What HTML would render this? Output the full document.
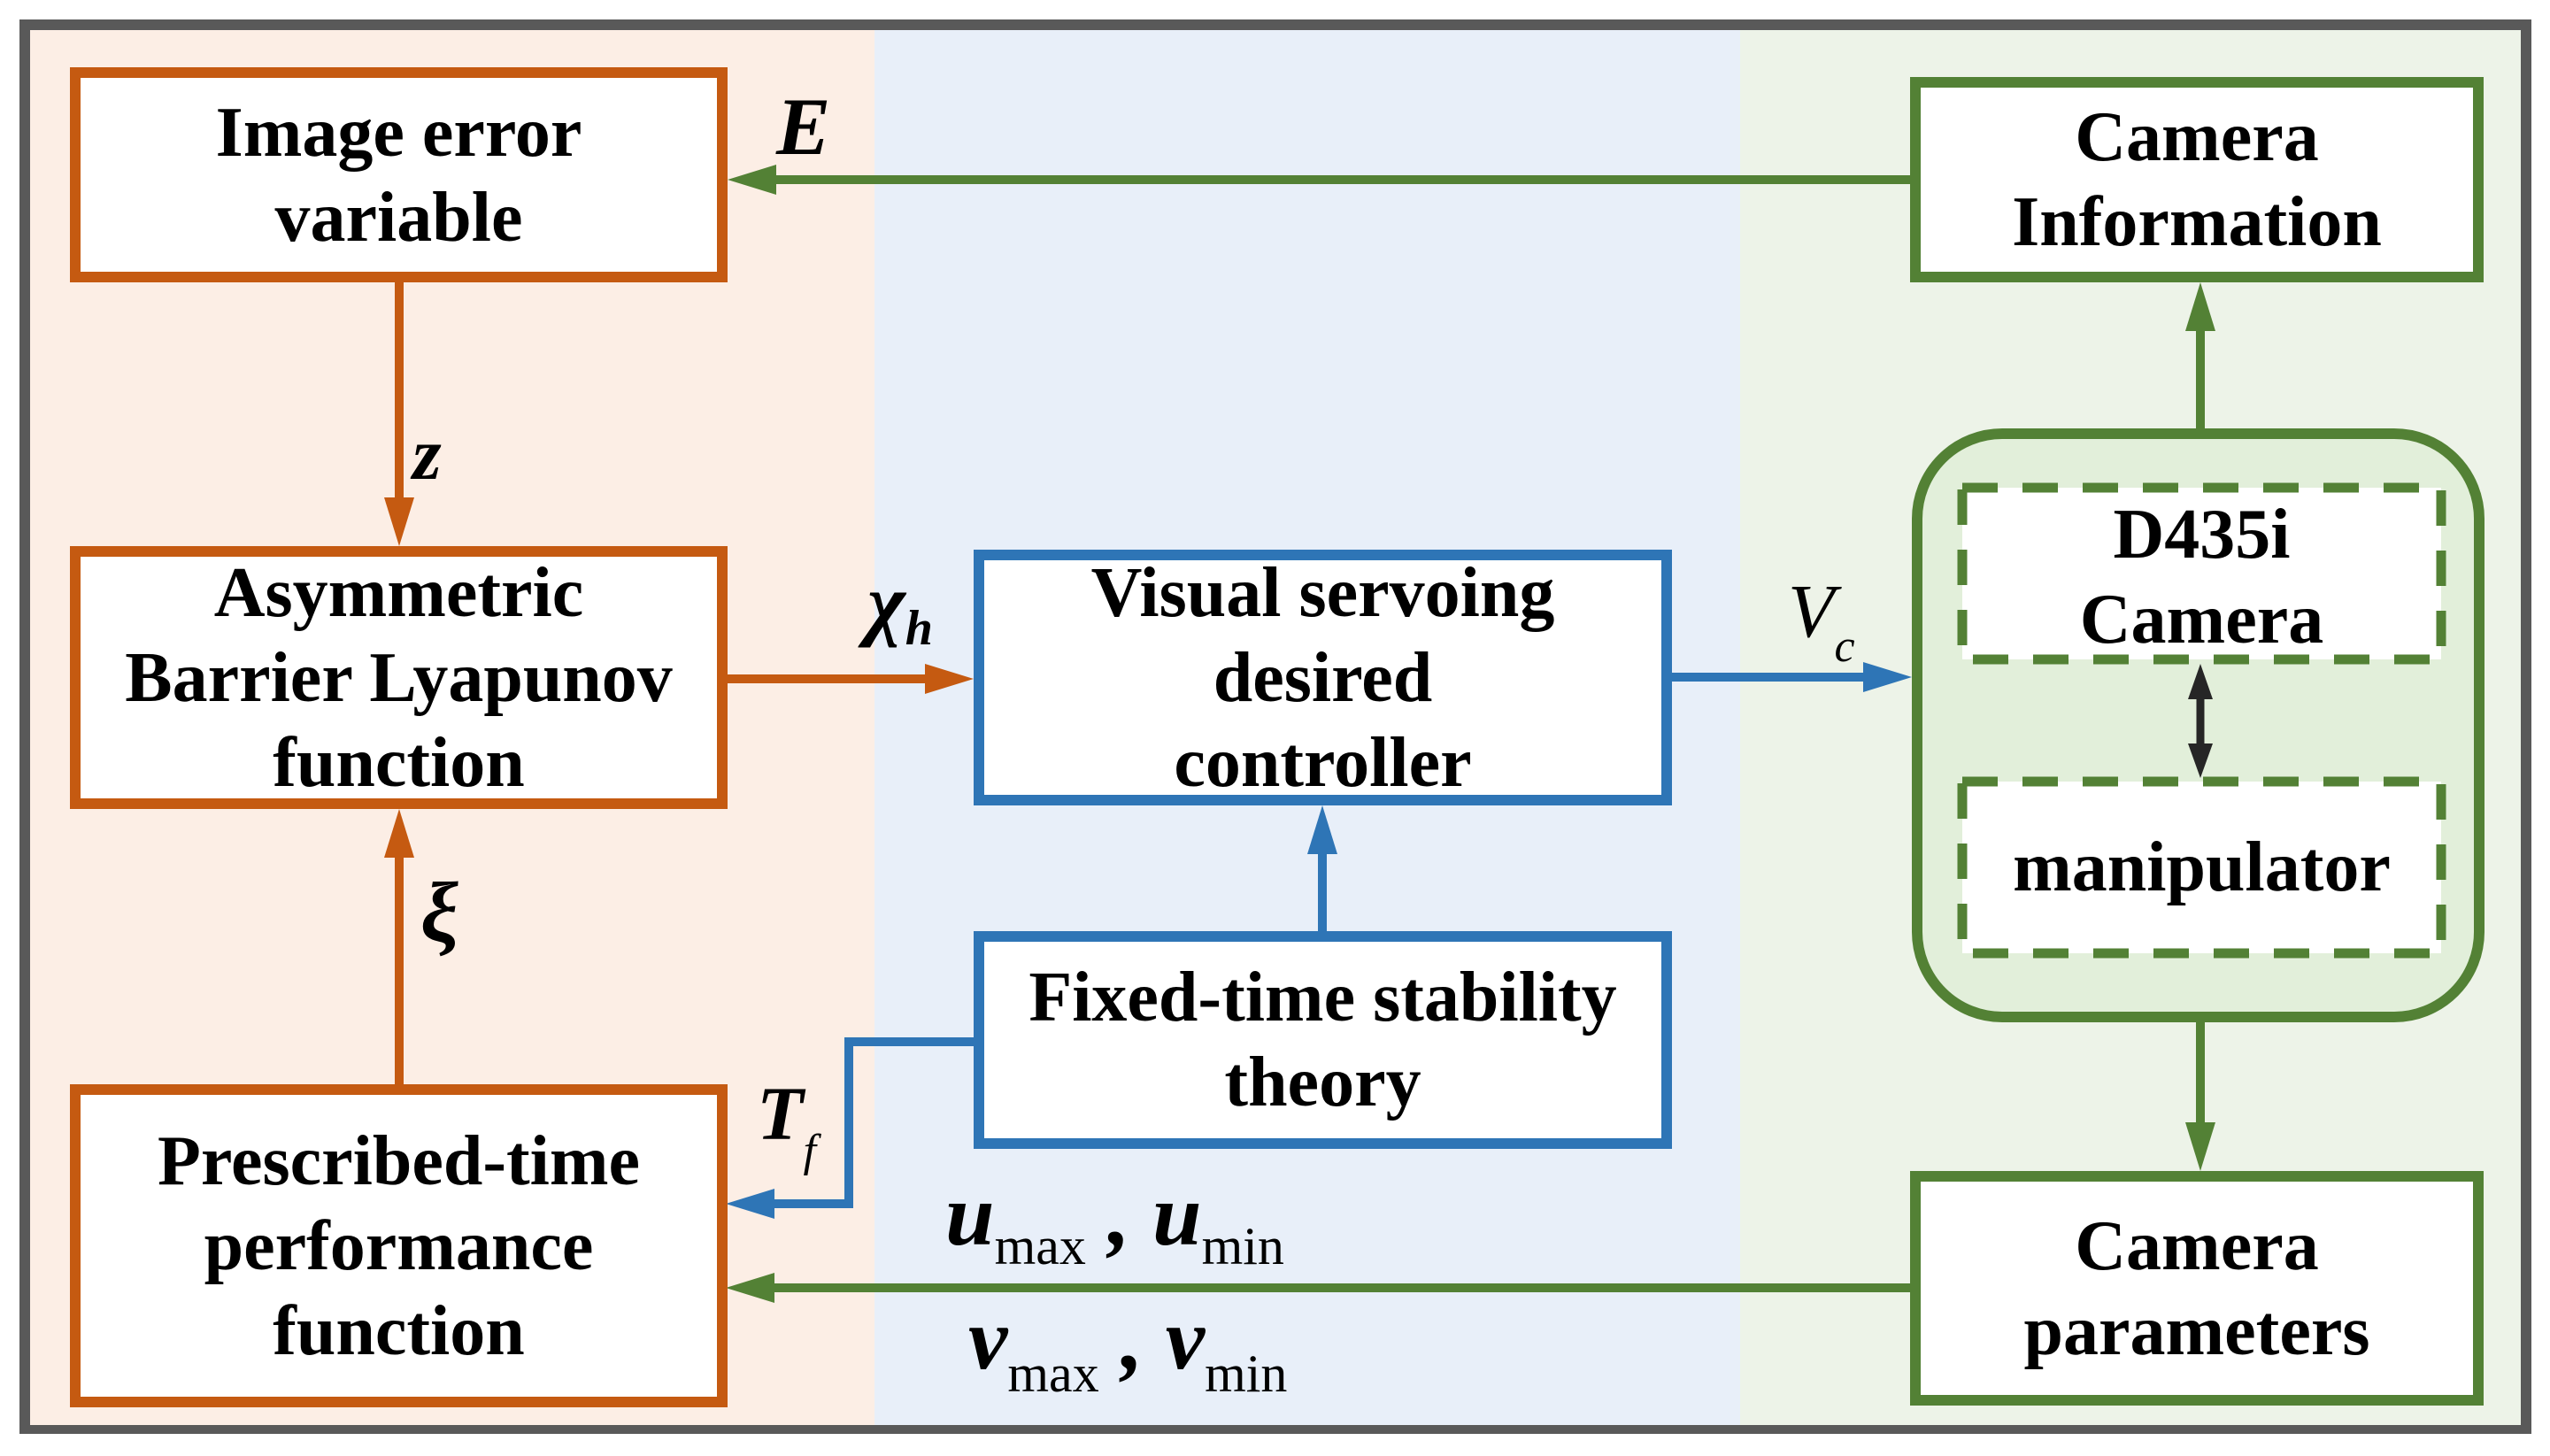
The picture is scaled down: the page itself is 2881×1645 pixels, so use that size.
<!DOCTYPE html>
<html><head><meta charset="utf-8"><style>
html,body{margin:0;padding:0;background:#fff}
#c{position:relative;width:2881px;height:1645px;overflow:hidden;background:#fff}
.b{position:absolute;box-sizing:border-box;border:12px solid;background:#fff;display:flex;align-items:center;justify-content:center;text-align:center;font-family:"Liberation Serif",serif;font-weight:bold;font-size:80px;line-height:96px;color:#000}
.o{border-color:#C55A11}.bl{border-color:#2E75B6}.g{border-color:#538135}
.t{position:absolute;font-family:"Liberation Serif",serif;font-weight:bold;font-style:italic;color:#000;white-space:nowrap}
.n{position:absolute;font-family:"Liberation Serif",serif;font-weight:bold;color:#000;white-space:nowrap;text-align:center;font-size:80px;line-height:96px}
</style></head><body><div id="c">
<svg width="2881" height="1645" style="position:absolute;left:0;top:0">
<rect x="22" y="22" width="2838" height="1598" fill="#595959"/>
<rect x="34" y="34" width="955" height="1576" fill="#FCEEE5"/>
<rect x="988" y="34" width="979" height="1576" fill="#E8EFF9"/>
<rect x="1966" y="34" width="882" height="1576" fill="#EDF3E8"/>
<g stroke-width="10" fill="none">
<line x1="2158" y1="203" x2="870" y2="203" stroke="#538135"/>
<line x1="451" y1="319" x2="451" y2="565" stroke="#C55A11"/>
<line x1="451" y1="1225" x2="451" y2="965" stroke="#C55A11"/>
<line x1="822" y1="767" x2="1050" y2="767" stroke="#C55A11"/>
<line x1="1889" y1="765" x2="2110" y2="765" stroke="#2E75B6"/>
<line x1="1494" y1="1052" x2="1494" y2="960" stroke="#2E75B6"/>
<polyline points="1100,1177 959,1177 959,1360 872,1360" stroke="#2E75B6"/>
<line x1="2158" y1="1455" x2="872" y2="1455" stroke="#538135"/>
<line x1="2486" y1="484" x2="2486" y2="370" stroke="#538135"/>
<line x1="2486" y1="1155" x2="2486" y2="1272" stroke="#538135"/>
</g>
<g>
<polygon points="822,203 877,186 877,220" fill="#538135"/>
<polygon points="451,617 434,562 468,562" fill="#C55A11"/>
<polygon points="451,914 434,969 468,969" fill="#C55A11"/>
<polygon points="1100,767 1045,750 1045,784" fill="#C55A11"/>
<polygon points="2160,765 2105,748 2105,782" fill="#2E75B6"/>
<polygon points="1494,910 1477,965 1511,965" fill="#2E75B6"/>
<polygon points="820,1360 875,1343 875,1377" fill="#2E75B6"/>
<polygon points="820,1455 875,1438 875,1472" fill="#538135"/>
<polygon points="2486,319 2469,374 2503,374" fill="#538135"/>
<polygon points="2486,1323 2469,1268 2503,1268" fill="#538135"/>
</g>
<rect x="2166" y="490" width="635" height="659" rx="96" fill="#E2EFDA" stroke="#538135" stroke-width="12"/>
<rect x="2217" y="551" width="541" height="194" fill="#fff" stroke="#538135" stroke-width="11" stroke-dasharray="40 28"/>
<rect x="2217" y="883" width="541" height="194" fill="#fff" stroke="#538135" stroke-width="11" stroke-dasharray="40 28"/>
<line x1="2486" y1="790" x2="2486" y2="840" stroke="#262626" stroke-width="9"/>
<polygon points="2486,750 2472,790 2500,790" fill="#262626"/>
<polygon points="2486,879 2472,840 2500,840" fill="#262626"/>
</svg>
<div class="b o" style="left:79px;top:76px;width:743px;height:243px">Image error<br>variable</div>
<div class="b o" style="left:79px;top:617px;width:743px;height:297px">Asymmetric<br>Barrier Lyapunov<br>function</div>
<div class="b o" style="left:79px;top:1225px;width:743px;height:365px">Prescribed-time<br>performance<br>function</div>
<div class="b bl" style="left:1100px;top:621px;width:789px;height:289px">Visual servoing<br>desired<br>controller</div>
<div class="b bl" style="left:1100px;top:1052px;width:789px;height:246px">Fixed-time stability<br>theory</div>
<div class="b g" style="left:2158px;top:87px;width:648px;height:232px">Camera<br>Information</div>
<div class="b g" style="left:2158px;top:1323px;width:648px;height:265px">Camera<br>parameters</div>
<div class="n" style="left:2213px;top:556px;width:549px">D435i<br>Camera</div>
<div class="n" style="left:2213px;top:932px;width:549px">manipulator</div>
<div class="t" style="left:877px;top:90px;font-size:92px">E</div>
<div class="t" style="left:466px;top:465px;font-size:84px">z</div>
<div class="t" style="left:980px;top:628px;font-size:92px">χ<span style="font-size:56px;position:relative;top:16px">h</span></div>
<div class="t" style="left:475px;top:975px;font-size:96px">ξ</div>
<div class="t" style="left:2020px;top:640px;font-size:86px;font-weight:normal">V<span style="font-size:52px;position:relative;top:28px">c</span></div>
<div class="t" style="left:855px;top:1208px;font-size:86px">T<span style="font-size:52px;position:relative;top:30px;font-weight:normal">f</span></div>
<div class="t" style="left:1068px;top:1315px;font-size:100px">u<span style="font-size:60px;font-style:normal;font-weight:normal;position:relative;top:22px">max</span> , u<span style="font-size:60px;font-style:normal;font-weight:normal;position:relative;top:22px">min</span></div>
<div class="t" style="left:1094px;top:1455px;font-size:100px">v<span style="font-size:60px;font-style:normal;font-weight:normal;position:relative;top:26px">max</span> , v<span style="font-size:60px;font-style:normal;font-weight:normal;position:relative;top:26px">min</span></div>
</div></body></html>
